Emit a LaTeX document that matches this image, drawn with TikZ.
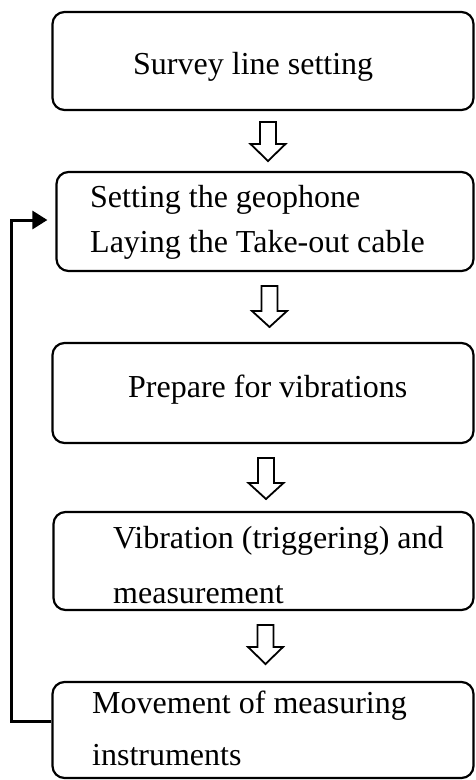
\documentclass[tikz,border=0pt]{standalone}
\usepackage{fontspec}
\setmainfont{Liberation Serif}
\usetikzlibrary{arrows.meta}
\begin{document}
\begin{tikzpicture}[x=1pt,y=-1pt,
  box/.style={draw,line width=2.2pt,rounded corners=12pt},
  txt/.style={anchor=base west,inner sep=0pt,font=\fontsize{32}{38}\selectfont},
  hollow/.style={draw,line width=1.8pt,fill=white,line join=miter},
  feedback/.style={draw,line width=3pt,-{Triangle[length=15pt,width=18pt]}}]
\useasboundingbox (0,0) rectangle (475,780);
% boxes
\node[box,minimum width=421pt,minimum height=98pt] (b1) at (263,61) {};
\node[box,minimum width=417pt,minimum height=99pt] (b2) at (265,221.5) {};
\node[box,minimum width=421pt,minimum height=100pt] (b3) at (263,393) {};
\node[box,minimum width=420pt,minimum height=98pt] (b4) at (263.5,561) {};
\node[box,minimum width=421pt,minimum height=96pt] (b5) at (263,730) {};
% texts
\node[txt] (t1) at (133,74) {Survey line setting};
\node[txt] (t2a) at (90,207) {Setting the geophone};
\node[txt] (t2b) at (90,252) {Laying the Take-out cable};
\node[txt] (t3) at (128,397) {Prepare for vibrations};
\node[txt] (t4a) at (113,548) {Vibration (triggering) and};
\node[txt] (t4b) at (113,603) {measurement};
\node[txt] (t5a) at (92,713) {Movement of measuring};
\node[txt] (t5b) at (92,765) {instruments};
% hollow arrows
\newcommand{\hollowarrow}[4]{% cx, top, base, tip
  \draw[hollow] (#1-8,#2) -- (#1+8,#2) -- (#1+8,#3) -- (#1+17.5,#3) -- (#1,#4) -- (#1-17.5,#3) -- (#1-8,#3) -- cycle;}
\hollowarrow{268}{122}{144}{161}
\hollowarrow{269.5}{286}{311}{327}
\hollowarrow{266}{458}{483}{499}
\hollowarrow{265.5}{625}{647}{664}
% feedback loop
\coordinate (fb5) at (b5.west |- 0,721);
\coordinate (fb2) at (b2.west |- 0,220);
\draw[feedback,shorten >=8pt] (fb5) -- (11.5,721) -- (11.5,220) -- (fb2);
\end{tikzpicture}
\end{document}
